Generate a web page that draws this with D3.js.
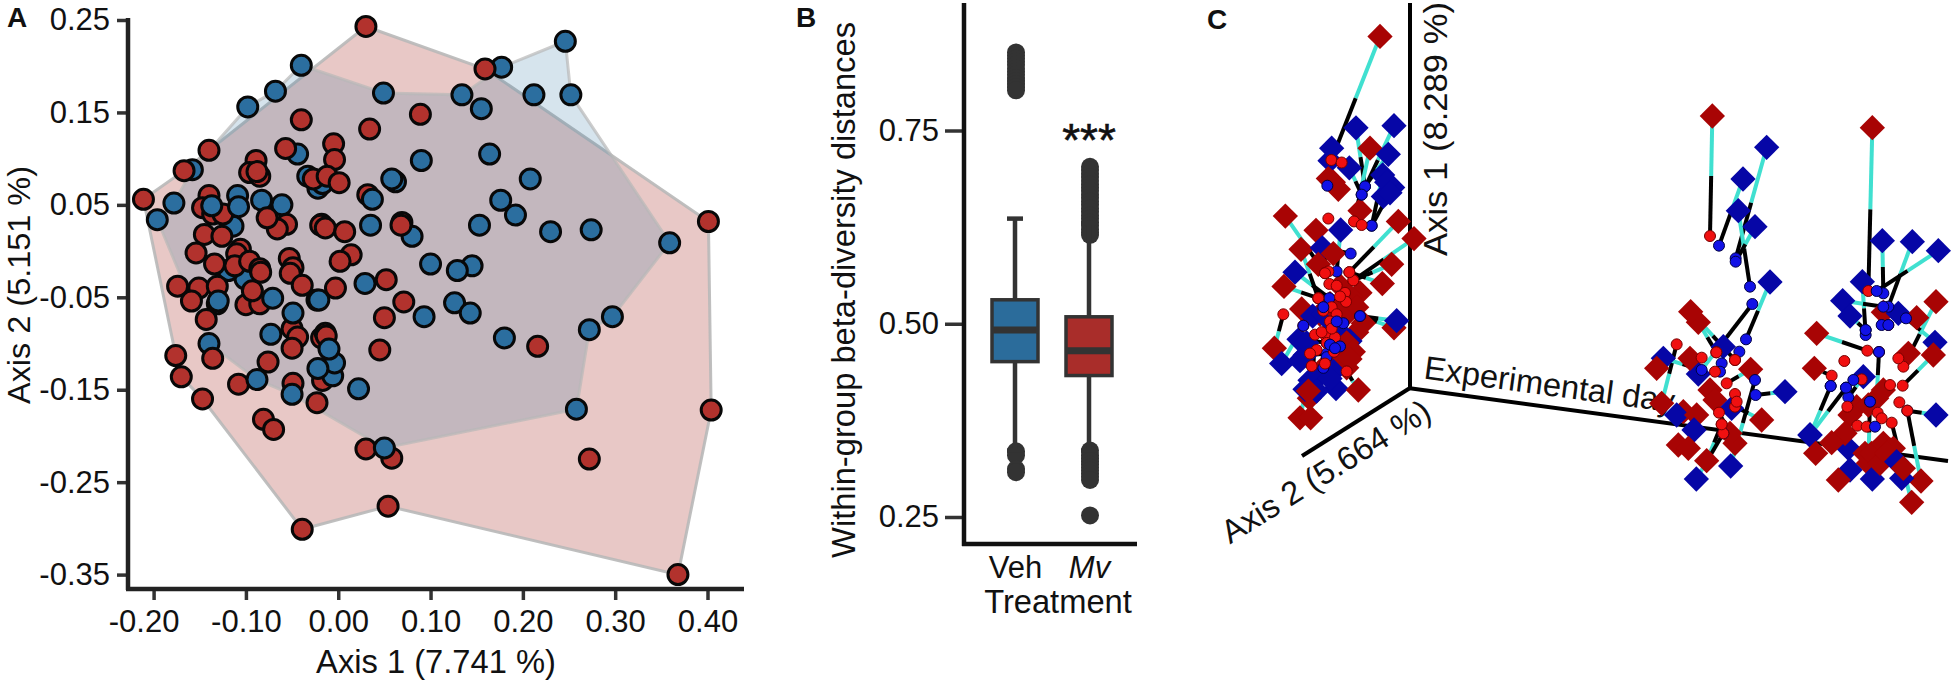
<!DOCTYPE html>
<html><head><meta charset="utf-8">
<script src="https://d3js.org/d3.v7.min.js"></script>
<style>
html,body{margin:0;padding:0;background:#fff}
svg{display:block}
text{font-family:"Liberation Sans",Arial,sans-serif;fill:#111}
</style></head><body>
<svg id="c" width="1955" height="684"></svg>
<script>
// ---------- Panel A : PCoA (Axis 1, Axis 2), layered in drawing order
const pcoaXTicks=[-0.2,-0.1,0,0.1,0.2,0.3,0.4];
const pcoaYTicks=[0.25,0.15,0.05,-0.05,-0.15,-0.25,-0.35];
const mvHull=[[-.211,.056],[-.167,.087],[-.140,.109],[.030,.243],[.159,.197],[.401,.032],[.404,-.172],[.368,-.350],[.054,-.276],[-.039,-.301],[-.147,-.160],[-.170,-.136],[-.176,-.113]];
const vehHull=[[-.040,.201],[.049,.171],[.134,.169],[.177,.199],[.246,.227],[.252,.169],[.359,.009],[.297,-.071],[.272,-.085],[.258,-.171],[.050,-.213],[-.050,-.155],[-.088,-.139],[-.140,-.100],[-.196,.034],[-.178,.052],[-.158,.088],[-.098,.156],[-.068,.173]];
const vehBack=[[-.044,.105],[-.158,.088],[-.033,.081],[-.022,.068],[-.017,.073],[.080,.016],[-.140,-.100],[-.114,.027],[-.101,-.030],[-.119,-.021],[.177,.199],[-.023,-.053],[.029,-.035],[-.131,-.057]];
const mvMain=[[.030,.243],[.159,.197],[-.040,.142],[-.140,.109],[-.057,.111],[-.089,.098],[-.096,.085],[-.085,.081],[-.088,.086],[-.167,.087],[-.211,.056],[-.140,.060],[-.147,.047],[-.136,.040],[-.125,.040],[-.056,.029],[-.066,.024],[-.145,.018],[-.126,.016],[-.018,.029],[-.154,-.002],[-.106,.002],[-.110,-.003],[-.134,-.014],[-.112,-.016],[-.096,-.011],[-.085,-.019],[-.053,-.008],[-.049,-.018],[-.052,-.024],[-.039,-.037],[-.027,.078],[.089,.148],[.034,.132],[-.005,.116],[-.004,.099],[-.012,.081],[.001,.074],[.032,.061],[.069,.031],[.068,.028],[-.019,.028],[-.014,.025],[.007,.021],[.014,-.004],[.002,-.011],[.052,-.031],[-.003,-.040],[.071,-.055],[.050,-.072],[-.174,-.038],[-.151,-.040],[-.131,-.038],[-.159,-.054],[-.176,-.113],[-.170,-.136],[-.147,-.160],[-.108,-.144],[-.076,-.120],[-.050,-.084],[-.044,-.093],[-.050,-.105],[-.100,-.058],[-.085,-.057],[-.093,-.043],[-.084,-.023],[-.049,-.143],[-.023,-.164],[-.018,-.094],[-.081,-.182],[-.070,-.193],[-.039,-.301],[.216,-.103],[.045,-.107],[-.014,-.089],[-.013,-.092],[-.017,-.140],[.401,.032],[.404,-.172],[.030,-.214],[.058,-.224],[.272,-.225],[.054,-.276],[.368,-.350]];
const vehFront=[[-.040,.201],[-.068,.173],[-.098,.156],[-.196,.034],[-.178,.052],[-.109,.060],[-.137,.049],[-.108,.048],[-.083,.055],[-.061,.050],[.049,.171],[.134,.169],[.155,.154],[.246,.227],[.212,.169],[.252,.169],[.090,.098],[.164,.105],[.208,.078],[.176,.055],[.192,.039],[.153,.028],[.230,.021],[.274,.023],[.037,.056],[.062,.075],[.058,.078],[.035,.028],[.100,-.014],[.145,-.016],[.129,-.021],[-.130,-.054],[-.073,-.090],[-.049,-.067],[-.088,-.139],[-.071,-.051],[-.050,-.155],[-.021,-.053],[.093,-.071],[.126,-.056],[.143,-.067],[.272,-.085],[.297,-.071],[.180,-.094],[-.006,-.135],[-.004,-.121],[-.022,-.127],[-.010,-.106],[.022,-.149],[.258,-.171],[.050,-.213],[.359,.009]];
const mvFront=[[-.143,-.074],[-.136,-.116],[-.077,.036]];

// ---------- Panel B : within-group distances
const treatments=["Veh","Mv"];
const distTicks=[0.25,0.5,0.75];
const vehBox=[.336,.451,.492,.531,.636];   // whisker low, Q1, median, Q3, whisker high
const mvBox=[.336,.433,.465,.509,.630];
const vehOutliers=[.851,.847,.843,.839,.835,.830,.826,.822,.818,.814,.810,.806,.802,.335,.330,.312,.308];
const mvOutliers=[.703,.699,.694,.690,.685,.680,.676,.672,.667,.663,.658,.654,.649,.645,.640,.636,.631,.627,.622,.618,.615,.336,.330,.326,.322,.318,.314,.310,.306,.302,.298,.252];

// ---------- Panel C : 3-D trajectories, projected, [group, diamond u, diamond v, circle u, circle v]
const earlyLinks=[
["M",570,102,424,448],["V",498,358,525,522],["V",612,352,515,545],["V",425,415,412,520],["M",540,415,492,620],["V",595,432,525,522],["V",478,470,515,545],["V",578,490,545,632],["V",608,525,545,632],["M",625,620,478,762],["M",672,668,490,785],["M",605,740,490,785],["M",577,794,478,762],["M",286,605,405,765],["V",315,762,418,835],["M",282,802,385,835],["V",452,644,440,760],["M",378,645,415,760],["M",333,698,385,835],["V",397,694,482,710],["M",253,975,280,880],["M",335,865,340,912],["V",275,1018,340,912],["V",327,950,410,960],["V",345,995,410,990],["V",360,1065,410,1000],["V",438,1088,400,1030],["M",505,1092,470,1040],["M",612,918,510,885],["V",620,898,510,885],["M",358,1115,405,1018],["M",330,1170,365,1025],["M",362,1170,375,937]];
const earlyDiamonds=[["V",580,550],["V",590,510],["V",600,540],["V",420,450],["M",430,510],["M",415,500],["M",445,530],["M",510,590],["M",430,710],["M",385,740],["M",510,820],["M",488,860],["M",450,800],["M",480,830],["M",500,860],["M",470,880],["M",440,900],["M",500,930],["M",420,850],["M",390,880],["V",368,885],["V",400,880],["V",430,920],["M",450,880],["M",520,905],["V",460,940],["V",480,955],["M",470,960],["M",490,985],["M",440,1000],["M",470,1030],["M",480,1005],["V",350,960],["V",330,1010],["M",400,1030],["V",430,1040],["V",380,1060],["V",420,1060],["V",345,1090],["V",380,1095],["M",355,1095]];
const earlyCircles=[["M",455,455],["M",415,612],["M",515,630],["M",405,765],["M",418,795],["M",385,835],["M",425,860],["M",465,820],["M",468,845],["M",408,942],["M",435,945],["V",460,905],["V",450,970],["M",432,985],["M",400,870],["M",440,880],["M",420,900],["M",395,930],["M",410,960],["M",425,920],["M",450,830],["V",440,900],["V",420,965],["V",435,975],["M",380,980],["M",360,990],["M",440,800],["V",400,860]];
const midLinks=[
["M",277,78,270,438],["V",440,172,347,505],["V",369,267,297,467],["V",355,362,390,590],["V",405,410,347,515],["V",450,576,378,748],["V",235,852,397,642],["M",235,697,289,787],["M",212,665,345,810],["M",125,940,170,763],["V",130,805,245,840],["V",495,905,407,915],["M",425,990,345,950],["M",260,1112,305,1003],["V",229,1167,310,1030],["V",332,1128,405,870],["M",392,838,320,880],["M",345,1060,297,968]];
const midDiamonds=[["M",110,835],["M",210,805],["V",310,770],["M",270,900],["M",285,930],["V",335,955],["M",190,965],["V",170,975],["M",230,975],["V",222,1020],["M",330,1030],["M",175,1065],["M",205,1075]];
const midCircles=[["M",289,787],["M",245,803],["V",358,785],["M",345,810],["V",305,820],["V",300,845],["M",285,845],["M",345,912],["M",350,935],["M",310,1030],["M",305,1003]];
const lateLinks=[
["M",757,113,745,603],["V",787,452,790,610],["V",877,455,805,650],["V",955,482,770,603],["V",727,575,737,735],["V",668,632,790,650],["V",690,678,737,720],["M",948,635,850,830],["M",590,730,742,782],["V",945,757,858,685],["M",940,795,848,887],["M",583,835,635,857],["V",948,975,862,962],["M",903,1173,862,962],["M",875,1237,815,998],["V",570,1035,632,888],["V",570,1035,678,893],["M",770,925,777,786],["M",790,667,805,705],["V",730,860,685,922],["M",745,1120,750,935]];
const lateDiamonds=[["V",835,670],["M",890,683],["M",865,790],["M",710,950],["M",690,975],["M",790,900],["M",745,945],["V",685,1075],["M",675,1030],["M",635,1058],["M",587,1090],["V",690,1140],["M",655,1170],["V",757,1167],["M",735,1090],["M",755,1090],["M",790,1060],["M",810,1080],["M",820,1075],["M",780,1120],["M",800,1090],["V",830,1115],["V",845,1165],["M",850,1135]];
const lateCircles=[["M",725,868],["V",700,870],["M",673,813],["M",835,805],["M",810,885],["M",838,937],["M",773,968],["M",785,985],["M",682,950],["M",712,1007],["M",740,1010],["V",765,1010],["V",750,935],["V",777,786],["V",785,705],["V",805,705],["V",737,720],["V",632,888],["V",678,893]];

const svg=d3.select("#c");
const FS=32.7;
function txt(x,y,s,opt={}){
  const t=svg.append("text").attr("transform",`translate(${x},${y}) rotate(${opt.r||0})`)
   .attr("font-size",opt.fs||FS).attr("text-anchor",opt.a||"middle").text(s);
  if(opt.w)t.attr("font-weight",opt.w);
  if(opt.i)t.attr("font-style","italic");
  if(opt.len)t.attr("textLength",opt.len).attr("lengthAdjust","spacingAndGlyphs");
  return t;
}
function rule(x1,y1,x2,y2,w,c){svg.append("line").attr("x1",x1).attr("y1",y1).attr("x2",x2).attr("y2",y2).attr("stroke",c||"#222").attr("stroke-width",w);}
function styleAxis(g){g.select(".domain").remove();g.selectAll("line").attr("stroke","#333").attr("stroke-width",3.5);
  g.selectAll("text").attr("font-size",31).attr("font-family",'"Liberation Sans"').attr("fill","#111");}
const hyphen=f=>d=>f(d).replace("\u2212","-");

// ===== Panel A
const ax=d3.scaleLinear().domain([-.2,.4]).range([153.6,707.5]);
const ay=d3.scaleLinear().domain([-.35,.25]).range([574.6,20]);
const hullPath=d3.line().x(d=>ax(d[0])).y(d=>ay(d[1])).curve(d3.curveLinearClosed);
svg.append("path").attr("d",hullPath(mvHull)).attr("fill","rgb(170,50,45)").attr("fill-opacity",.27).attr("stroke","#b8b8b8").attr("stroke-opacity",.9).attr("stroke-width",3);
svg.append("path").attr("d",hullPath(vehHull)).attr("fill","rgb(38,112,160)").attr("fill-opacity",.19).attr("stroke","#b8b8b8").attr("stroke-opacity",.7).attr("stroke-width",3);
const gAx=svg.append("g").attr("transform","translate(0,589)").call(d3.axisBottom(ax).tickValues(pcoaXTicks).tickFormat(hyphen(d3.format(".2f"))).tickSize(11).tickPadding(10));
styleAxis(gAx);
const gAy=svg.append("g").attr("transform","translate(128,0)").call(d3.axisLeft(ay).tickValues(pcoaYTicks).tickFormat(hyphen(d3.format(".2f"))).tickSize(11).tickPadding(7));
styleAxis(gAy);
gAx.selectAll("text").filter(d=>d===-0.2).attr("dx",-10);
rule(128,18,128,590,4.5);rule(126,589,744,589,4.5);
const COL={M:"#b2322d",V:"#2b6e9f"};
[[vehBack,"V"],[mvMain,"M"],[vehFront,"V"],[mvFront,"M"]].forEach(([arr,g])=>{
  svg.append("g").selectAll("circle").data(arr).join("circle").attr("cx",d=>ax(d[0])).attr("cy",d=>ay(d[1])).attr("r",10).attr("fill",COL[g]).attr("stroke","#080808").attr("stroke-width",3);
});
txt(30,285,"Axis 2 (5.151 %)",{r:-90,fs:32,len:238});
txt(436,673,"Axis 1 (7.741 %)");
txt(7,27,"A",{a:"start",fs:28,w:"bold"});

// ===== Panel B
const bx=d3.scalePoint().domain(treatments).range([1015,1089]);
const by=d3.scaleLinear().domain([.25,.75]).range([517,130.5]);
const gBy=svg.append("g").attr("transform","translate(964,0)").call(d3.axisLeft(by).tickValues(distTicks).tickFormat(d3.format(".2f")).tickSize(19).tickPadding(6));
styleAxis(gBy);
const gBx=svg.append("g").attr("transform","translate(0,544)").call(d3.axisBottom(bx).tickSize(0).tickPadding(12));
styleAxis(gBx);
gBx.selectAll("text").attr("font-style",d=>d==="Mv"?"italic":"normal");
rule(964,3,964,546,4.5,"#111");rule(962,544,1137,544,4.5,"#111");
[["Veh",vehBox,vehOutliers,"#2b6c9b"],["Mv",mvBox,mvOutliers,"#a92d2a"]].forEach(([name,b,o,fill])=>{
  const x=bx(name);
  svg.append("g").selectAll("circle").data(o).join("circle").attr("cx",x+1).attr("cy",d=>by(d)).attr("r",9).attr("fill","#333");
  rule(x,by(b[0]),x,by(b[4]),4.5,"#333");
  rule(x-8,by(b[4]),x+8,by(b[4]),4.5,"#333");rule(x-8,by(b[0]),x+8,by(b[0]),4.5,"#333");
  svg.append("rect").attr("x",x-23).attr("width",46).attr("y",by(b[3])).attr("height",by(b[1])-by(b[3])).attr("fill",fill).attr("stroke","#333").attr("stroke-width",3.5);
  rule(x-23,by(b[2]),x+23,by(b[2]),7,"#333");
});
txt(1089,156,"***",{fs:46}).attr("stroke","#111").attr("stroke-width",.6);
txt(855,290,"Within-group beta-diversity distances",{r:-90});
txt(1058,613,"Treatment");
txt(796,27,"B",{a:"start",fs:28,w:"bold"});

// ===== Panel C
rule(1410,3,1410,390,4,"#000");rule(1410,388,1302,456,4,"#000");rule(1408,388,1948,461,4,"#000");
txt(1447,129,"Axis 1 (8.289 %)",{r:-90,len:254});
txt(1423,378.6,"Experimental day",{a:"start",r:7.7});
txt(1230,544.6,"Axis 2 (5.664 %)",{a:"start",r:-32});
txt(1207,29,"C",{a:"start",fs:28,w:"bold"});

const dCol={M:"#a80404",V:"#0606a6"},cCol={M:"#f01010",V:"#1212e6"},cEdge={M:"#700",V:"#004"};
function cluster(links,dia,cir,u,v){
  const g=svg.append("g");
  const seg=g.append("g");
  links.forEach(l=>{
    const mu=(l[1]+l[3])/2,mv=(l[2]+l[4])/2;
    seg.append("line").attr("x1",u(l[1])).attr("y1",v(l[2])).attr("x2",u(mu)).attr("y2",v(mv)).attr("stroke","#40e0d0").attr("stroke-width",4);
    seg.append("line").attr("x1",u(mu)).attr("y1",v(mv)).attr("x2",u(l[3])).attr("y2",v(l[4])).attr("stroke","#000").attr("stroke-width",4);
  });
  const allD=links.map(l=>[l[0],l[1],l[2]]).concat(dia);
  const sym=d3.symbol().type(d3.symbolSquare).size(320);
  g.append("g").selectAll("path").data(allD).join("path").attr("d",sym)
    .attr("transform",d=>`translate(${u(d[1])},${v(d[2])}) rotate(45)`).attr("fill",d=>dCol[d[0]]);
  const allC=links.map(l=>[l[0],l[3],l[4]]).concat(cir);
  g.append("g").selectAll("circle").data(allC).join("circle").attr("cx",d=>u(d[1])).attr("cy",d=>v(d[2])).attr("r",5.5)
    .attr("fill",d=>cCol[d[0]]).attr("stroke",d=>cEdge[d[0]]).attr("stroke-width",1);
}
const u1=d3.scaleLinear().domain([0,1200]).range([1190,1590]),v1=d3.scaleLinear().domain([0,1568]).range([0,560]);
const u2=d3.scaleLinear().domain([0,1005]).range([1620,1955]),v2=d3.scaleLinear().domain([0,1290]).range([90,520]);
cluster(earlyLinks,earlyDiamonds,earlyCircles,u1,v1);
cluster(midLinks,midDiamonds,midCircles,u2,v2);
cluster(lateLinks,lateDiamonds,lateCircles,u2,v2);
</script>
</body></html>
